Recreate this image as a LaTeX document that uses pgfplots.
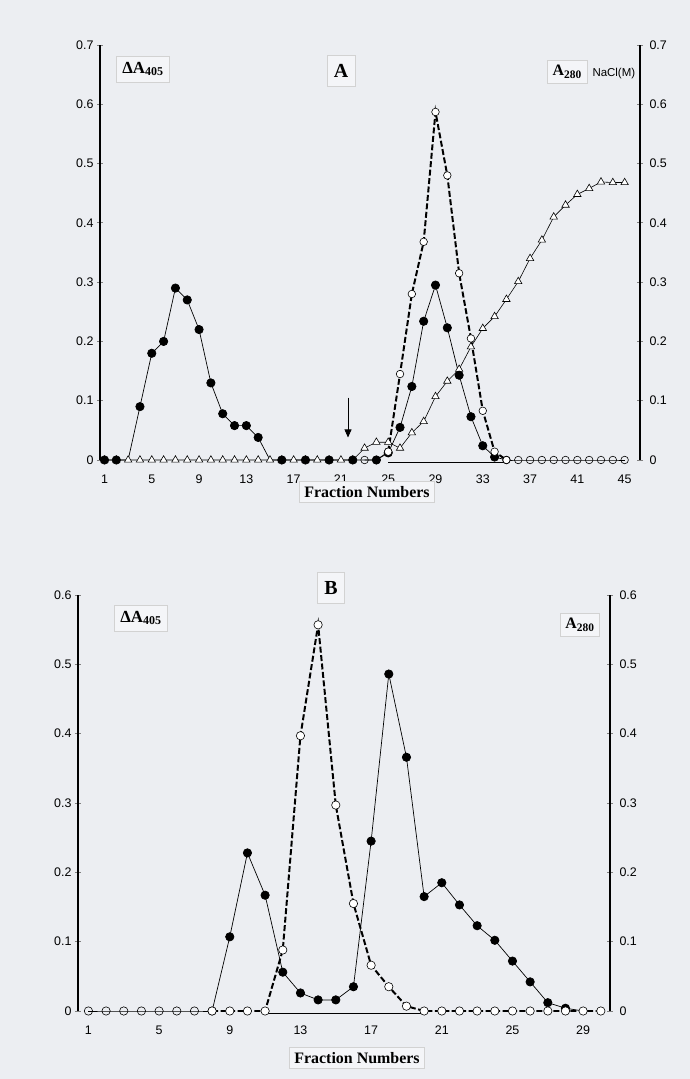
\documentclass[border=0pt]{standalone}
\usepackage{fontspec}
\setmainfont{Liberation Serif}
\setsansfont{Liberation Sans}
\usepackage{pgfplots}
\pgfplotsset{compat=1.18}
\usetikzlibrary{arrows.meta}
\definecolor{paper}{RGB}{236,238,242}
\definecolor{card}{RGB}{244,245,248}
\pgfplotsset{
  chrom/.style={
    scale only axis, clip=false, ymin=0,
    axis x line*=bottom, x axis line style={draw=none}, xtick style={draw=none},
    axis y line*=left, y axis line style={line width=1.3pt,-},
    tick align=center, ytick style={line width=0.8pt}, major tick length=6bp,
    ticklabel style={font=\sffamily\fontsize{12.5}{13}\selectfont},
    /pgf/number format/assume math mode=true,
    yticklabel style={/pgf/number format/fixed,/pgf/number format/precision=1},
    xticklabel style={yshift=-8bp},
  },
  rightax/.style={
    scale only axis, clip=false, ymin=0,
    axis x line=none,
    axis y line*=right, y axis line style={line width=1.3pt,-},
    tick align=center, ytick style={line width=0.8pt}, major tick length=6bp,
    ticklabel style={font=\sffamily\fontsize{12.5}{13}\selectfont},
    /pgf/number format/assume math mode=true,
    yticklabel style={/pgf/number format/fixed,/pgf/number format/precision=1,xshift=3bp},
  },
  fill/.style={black, line width=0.7pt, mark=*, mark size=4.2pt, mark options={solid,fill=black}},
  tri/.style={black, line width=0.6pt, mark=triangle*, mark size=4.3pt, mark options={solid,fill=white,line width=0.6pt}},
  hol/.style={black, line width=0.6pt, mark=o, mark size=3.8pt, mark options={solid,fill=white,line width=0.6pt}},
  dsh/.style={black, line width=2pt, dash pattern=on 6pt off 2.5pt, mark=*, mark size=3.8pt, mark options={solid,fill=white,draw=black,line width=0.6pt}},
}
\tikzset{card/.style={draw=gray!35, fill=card, line width=0.5pt}}
\begin{document}
\begin{tikzpicture}
\fill[paper] (0,0) rectangle (690bp,1079bp);
\path[use as bounding box] (0,0) rectangle (690bp,1079bp);

% ---------------- Panel A ----------------
\begin{axis}[chrom, at={(100bp,619bp)}, anchor=south west, width=540bp, height=415bp,
  xmin=0.62, xmax=46.3, ymax=0.7, xtick={1,5,...,45}, ytick={0,0.1,...,0.7}]
% NaCl (triangles)
\addplot[tri] coordinates {(1,0)(2,0)(3,0)(4,0)(5,0)(6,0)(7,0)(8,0)(9,0)(10,0)(11,0)(12,0)(13,0)(14,0)(15,0)(16,0)(17,0)(18,0)(19,0)(20,0)(21,0)(22,0)(23,0.02)(24,0.03)(25,0.03)(26,0.02)(27,0.046)(28,0.065)(29,0.107)(30,0.133)(31,0.153)(32,0.191)(33,0.222)(34,0.242)(35,0.271)(36,0.301)(37,0.34)(38,0.371)(39,0.41)(40,0.43)(41,0.448)(42,0.458)(43,0.469)(44,0.468)(45,0.468)};
% Delta A405 (filled)
\addplot[fill, mark indices={1,2,4,5,6,7,8,9,10,11,12,13,14,16,18,20,22,24,25,26,27,28,29,30,31,32,33,34}] coordinates {(1,0)(2,0)(3,0)(4,0.09)(5,0.18)(6,0.2)(7,0.29)(8,0.27)(9,0.22)(10,0.13)(11,0.078)(12,0.058)(13,0.058)(14,0.038)(15,0)(16,0)(17,0)(18,0)(19,0)(20,0)(21,0)(22,0)(23,0)(24,0)(25,0.012)(26,0.055)(27,0.124)(28,0.234)(29,0.295)(30,0.223)(31,0.143)(32,0.073)(33,0.024)(34,0.005)(35,0)};
% baseline bar
\addplot[black, line width=1.4pt] coordinates {(25,-0.004)(35,-0.004)};
% A280 (hollow)
\addplot[hol] coordinates {(23,0)(24,0)(25,0.014)};
\addplot[dsh] coordinates {(25,0.014)(26,0.145)(27,0.28)(28,0.368)(29,0.587)(30,0.48)(31,0.315)(32,0.205)(33,0.083)(34,0.014)(35,0)};
\addplot[hol] coordinates {(35,0)(36,0)(37,0)(38,0)(39,0)(40,0)(41,0)(42,0)(43,0)(44,0)(45,0)};
\draw[line width=0.7pt, -{Triangle[length=8bp,width=7bp]}] (axis cs:21.6,0.105) -- (axis cs:21.6,0.038);
\end{axis}
\begin{axis}[rightax, at={(100bp,619bp)}, anchor=south west, width=540bp, height=415bp,
  xmin=0.62, xmax=46.3, ymax=0.7, ytick={0,0.1,...,0.7}]
\addplot[draw=none] coordinates {(1,0)};
\end{axis}
\node[card, inner sep=6bp, font=\bfseries\fontsize{17}{17}\selectfont] at (143bp,1010bp) {ΔA\textsubscript{\fontsize{12}{12}\selectfont 405}};
\node[card, inner xsep=7bp, inner ysep=9bp, font=\bfseries\fontsize{20}{20}\selectfont] at (341bp,1008bp) {A};
\node[card, inner sep=5bp, font=\bfseries\fontsize{16}{16}\selectfont, anchor=east] at (587bp,1007bp) {A\textsubscript{\fontsize{11.5}{11.5}\selectfont 280}};
\node[font=\sffamily\fontsize{11.5}{11.5}\selectfont, anchor=west] at (589bp,1005bp) {NaCl(M)};
\node[card, inner sep=5bp, font=\bfseries\fontsize{16}{16}\selectfont] at (367bp,587bp) {Fraction Numbers};

% ---------------- Panel B ----------------
\begin{axis}[chrom, at={(78bp,68bp)}, anchor=south west, width=532bp, height=416bp,
  xmin=0.41, xmax=30.52, ymax=0.6, xtick={1,5,...,29}, ytick={0,0.1,...,0.6}]
\addplot[fill, mark indices={2,3,4,5,6,7,8,9,10,11,12,13,14,15,16,17,18,19,20,21}] coordinates {(8,0)(9,0.107)(10,0.228)(11,0.167)(12,0.056)(13,0.026)(14,0.016)(15,0.016)(16,0.035)(17,0.245)(18,0.486)(19,0.366)(20,0.165)(21,0.185)(22,0.153)(23,0.123)(24,0.102)(25,0.072)(26,0.042)(27,0.012)(28,0.004)(29,0)};
\addplot[black, line width=1.4pt] coordinates {(11,-0.004)(20,-0.004)};
\addplot[hol, mark size=4.2pt] coordinates {(1,0)(2,0)(3,0)(4,0)(5,0)(6,0)(7,0)(8,0)};
\addplot[dsh, mark size=4.2pt] coordinates {(8,0)(9,0)(10,0)(11,0)(12,0.088)(13,0.397)(14,0.557)(15,0.297)(16,0.155)(17,0.066)(18,0.035)(19,0.007)(20,0)(21,0)(22,0)(23,0)(24,0)(25,0)(26,0)(27,0)(28,0)(29,0)(30,0)};
\end{axis}
\begin{axis}[rightax, at={(78bp,68bp)}, anchor=south west, width=532bp, height=416bp,
  xmin=0.41, xmax=30.52, ymax=0.6, ytick={0,0.1,...,0.6}]
\addplot[draw=none] coordinates {(1,0)};
\end{axis}
\node[card, inner xsep=7bp, inner ysep=9bp, font=\bfseries\fontsize{20}{20}\selectfont] at (331bp,491bp) {B};
\node[card, inner sep=6bp, font=\bfseries\fontsize{17}{17}\selectfont] at (141bp,461bp) {ΔA\textsubscript{\fontsize{12}{12}\selectfont 405}};
\node[card, inner sep=5bp, font=\bfseries\fontsize{16}{16}\selectfont] at (580bp,454bp) {A\textsubscript{\fontsize{11.5}{11.5}\selectfont 280}};
\node[card, inner sep=5bp, font=\bfseries\fontsize{16}{16}\selectfont] at (357bp,21bp) {Fraction Numbers};
\end{tikzpicture}
\end{document}
